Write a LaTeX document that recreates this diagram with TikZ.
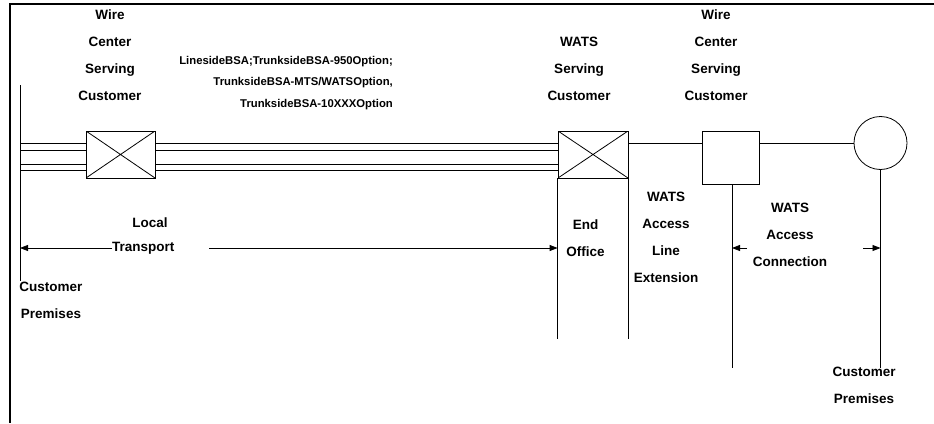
\documentclass[tikz,border=0pt]{standalone}
\usepackage{fontspec}
\setmainfont{Liberation Sans}
\usetikzlibrary{arrows.meta,calc,positioning}

\begin{document}
\begin{tikzpicture}[
    x=1pt, y=-1pt,
    >={Triangle[length=8pt,width=6pt]},
    % Define styles
    switch/.style={rectangle, draw=black, line width=0.8pt, fill=white, minimum width=69pt, minimum height=47pt, inner sep=0pt,
        path picture={\draw[line width=0.8pt] (path picture bounding box.north west) -- (path picture bounding box.south east)
            (path picture bounding box.south west) -- (path picture bounding box.north east);}},
    office/.style={rectangle, draw=black, line width=0.8pt, fill=white, minimum width=57pt, minimum height=53pt, inner sep=0pt},
    premises/.style={circle, draw=black, line width=0.8pt, fill=white, minimum size=53pt, inner sep=0pt},
    label/.style={align=center, inner sep=0pt, font=\fontsize{13.5}{27}\selectfont\bfseries},
    note/.style={align=right, inner sep=0pt, font=\fontsize{11.3}{21.5}\selectfont\bfseries},
    wire/.style={line width=0.8pt},
    arrow/.style={->, line width=0.8pt},
    frame/.style={line width=2.5pt}
]
\useasboundingbox (0,0) rectangle (934,423);

% Frame
\draw[frame] (934,4) -- (10,4) -- (10,423);

% Switches and offices
\node[switch] (wc1) at (120.5,154.5) {};
\node[switch, minimum width=70pt] (eo) at (593,154.5) {};
\node[office] (wc2) at (730.5,157.5) {};
\node[premises] (cp) at (880.5,143) {};

% Customer premises line (left)
\coordinate (cpl) at (20,85);
\draw[wire] (cpl) -- ++(0,196);

% Trunk lines
\foreach \y in {143,150,164,170} {
    \draw[wire] (cpl |- 0,\y) -- (wc1.west |- 0,\y);
    \draw[wire] (wc1.east |- 0,\y) -- (eo.west |- 0,\y);
}

% WATS access line
\draw[wire] (eo.east |- 0,143) -- (wc2.west |- 0,143);
\draw[wire] (wc2.east |- 0,143) -- (cp.west);

% Vertical boundaries
\draw[wire] (eo.south west) -- ++(0,161);
\draw[wire] (eo.south east) -- ++(0,161);
\draw[wire] ([xshift=1.5pt]wc2.south) -- ++(0,184);
\draw[wire] (cp.south) -- ++(0,198);

% Labels on top
\node[label] (wcsc1) at (110,55.5) {Wire\\Center\\Serving\\Customer};
\node[label] (wsc) at (579,68.5) {WATS\\Serving\\Customer};
\node[label] (wcsc2) at (716,55.5) {Wire\\Center\\Serving\\Customer};
\node[note, anchor=east] (bsa) at (393,82.7) {LinesideBSA;TrunksideBSA-950Option;\\TrunksideBSA-MTS/WATSOption,\\TrunksideBSA-10XXXOption};

% Local transport
\node[label] (local) at (150,223) {Local};
\node[label, anchor=west] (transport) at (112,248) {Transport};
\coordinate (ltr) at (209,248);
\draw[arrow] (transport.west) -- (cpl |- 0,248);
\draw[arrow] (ltr) -- (eo.west |- 0,248);

% Lower labels
\node[label] (endoff) at (585.5,238.5) {End\\Office};
\node[label] (wale) at (666,237.5) {WATS\\Access\\Line\\Extension};
\node[label] (wac) at (790,234.5) {WATS\\Access\\Connection};
\node[label] (cust1) at (51,300) {Customer\\Premises};
\node[label] (cust2) at (864,385.5) {Customer\\Premises};

% Access connection arrows
\coordinate (wacl) at (747,248);
\coordinate (wacr) at (863,248);
\draw[arrow] (wacl) -- (732,248);
\draw[arrow] (wacr) -- (cp.south |- 0,248);

\end{tikzpicture}
\end{document}
